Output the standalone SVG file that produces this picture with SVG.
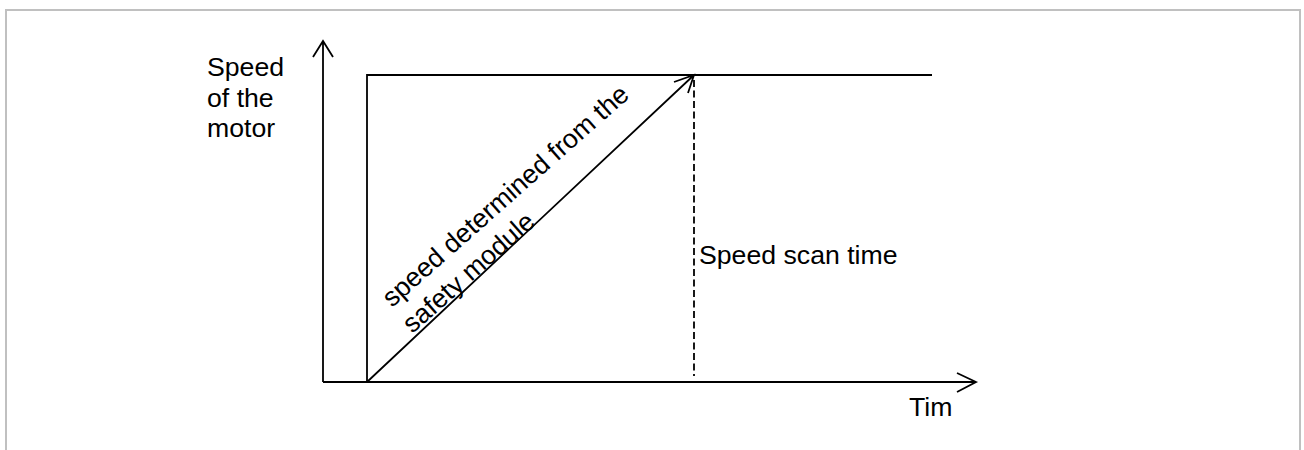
<svg xmlns="http://www.w3.org/2000/svg" width="1304" height="450" viewBox="0 0 1304 450">
<style>
.ln{fill:none;stroke:#000;stroke-width:1.8}
.txt{font-family:"Liberation Sans",Arial,sans-serif;font-size:26.67px;fill:#000}
</style>
<rect x="0" y="0" width="1304" height="450" fill="#fff"/>
<rect id="frame" x="6" y="10" width="1294" height="470" fill="none" stroke="#c0c0c0" stroke-width="2"/>
<g id="connectors">
  <path id="y-axis" class="ln" d="M323,382 V41 M313,57 L323,41 L333,57"/>
  <path id="x-axis" class="ln" d="M323,382 H976 M957,373 L976,382 L957,392"/>
  <path id="step" class="ln" d="M367,382 V75 H932"/>
  <path id="ramp" class="ln" d="M367,382 L694,75 M674,82 L694,75 L688,93"/>
  <path id="scan" class="ln" d="M694,80 V376" stroke-dasharray="7 3.5"/>
</g>
<g id="label-y">
  <text class="txt" x="207" y="76">Speed</text>
  <text class="txt" x="207" y="106.5">of the</text>
  <text class="txt" x="207" y="137">motor</text>
</g>
<g id="label-ramp">
  <text class="txt" transform="translate(392,308) rotate(-41.5)"><tspan x="0" y="0">speed determined from the</tspan><tspan x="-2" y="33">safety module</tspan></text>
</g>
<g id="label-scan">
  <text class="txt" x="699" y="264">Speed scan time</text>
</g>
<g id="label-x">
  <text class="txt" x="909" y="416">Tim</text>
</g>
</svg>
